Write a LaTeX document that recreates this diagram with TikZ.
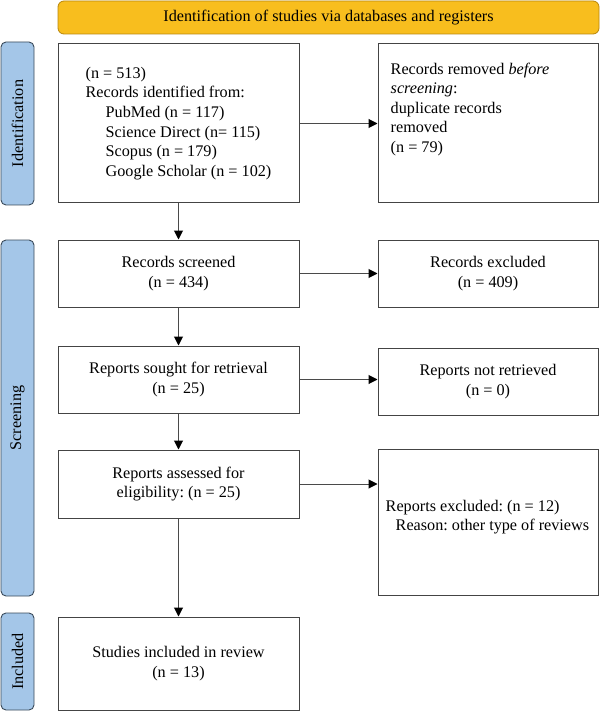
\documentclass[tikz,border=0pt]{standalone}
\usepackage{fontspec}
\setmainfont{Liberation Serif}
\usetikzlibrary{arrows.meta,calc}
\definecolor{bannerfill}{HTML}{F8BE1E}
\definecolor{bannerdraw}{HTML}{B8860B}
\definecolor{sidefill}{HTML}{A4C6E8}
\definecolor{sidedraw}{HTML}{3A4A5A}
\definecolor{boxdraw}{HTML}{444444}
\definecolor{arrowcol}{HTML}{4A4A4A}
\frenchspacing
\begin{document}
\begin{tikzpicture}[x=1pt,y=-1pt,
  every node/.style={font=\fontsize{16.2}{19.6}\selectfont},
  flowbox/.style={draw=boxdraw,line width=1pt,fill=white,inner sep=0pt,align=center},
  sidebar/.style={draw=sidedraw,line width=0.9pt,fill=sidefill,rounded corners=5pt,inner sep=0pt},
  banner/.style={draw=bannerdraw,line width=0.8pt,fill=bannerfill,rounded corners=6pt,inner sep=0pt},
  flowarrow/.style={draw=arrowcol,line width=1pt,-{Triangle[length=9pt,width=9pt,color=black]}},
  plaintext/.style={inner sep=0pt,align=left}]
\useasboundingbox (0,0) rectangle (600,711);
% banner
\node[banner,minimum width=541pt,minimum height=33pt] (ban) at (328.5,17.5) {Identification of studies via databases and registers};
% side bars
\node[sidebar,minimum width=33pt,minimum height=163pt] (sideid) at (17.5,123.5) {};
\node[rotate=90] (sideidt) at (sideid.center) {Identification};
\node[sidebar,minimum width=33pt,minimum height=356pt] (sidescr) at (17.5,418) {};
\node[rotate=90] (sidescrt) at (sidescr.center) {Screening};
\node[sidebar,minimum width=33pt,minimum height=97pt] (sideinc) at (17.5,661.5) {};
\node[rotate=90] (sideinct) at (sideinc.center) {Included};
% left column
\node[flowbox,align=left,minimum width=241pt,minimum height=159pt] (ident) at (178.5,123.5)
  {(n = 513)\\Records identified from:\\\hspace*{20pt}PubMed (n = 117)\\\hspace*{20pt}Science Direct (n= 115)\\\hspace*{20pt}Scopus (n = 179)\\\hspace*{20pt}Google Scholar (n = 102)};
\node[flowbox,minimum width=241pt,minimum height=67pt] (screened) at (178.5,273.5) {Records screened\\(n = 434)};
\node[flowbox,minimum width=241pt,minimum height=67pt] (sought) at (178.5,379.5) {Reports sought for retrieval\\(n = 25)};
\node[flowbox,minimum width=241pt,minimum height=68pt] (assessed) at (178.5,484) {Reports assessed for\\eligibility: (n = 25)};
\node[flowbox,minimum width=241pt,minimum height=93pt] (included) at (178.5,663.5) {Studies included in review\\(n = 13)};
% right column
\node[flowbox,minimum width=220pt,minimum height=159pt] (removed) at (488,123.5) {};
\node[plaintext,anchor=north west] (removedt) at ($(removed.north west)+(13,19)$)
  {Records removed \textit{before}\\\textit{screening}:\\duplicate records\\removed\\(n = 79)};
\node[flowbox,minimum width=220pt,minimum height=67pt] (recexcl) at (488,273.5) {Records excluded\\(n = 409)};
\node[flowbox,minimum width=220pt,minimum height=67pt] (notret) at (488,381.5) {Reports not retrieved\\(n = 0)};
\node[flowbox,minimum width=220pt,minimum height=146pt] (repexcl) at (488,522) {};
\node[plaintext,anchor=west] (repexclt) at ($(repexcl.west)+(8,-5)$)
  {Reports excluded: (n = 12)\\\hspace*{10pt}Reason: other type of reviews};
% arrows
\draw[flowarrow] (ident.south) -- (screened.north);
\draw[flowarrow] (screened.south) -- (sought.north);
\draw[flowarrow] (sought.south) -- (assessed.north);
\draw[flowarrow] (assessed.south) -- (included.north);
\draw[flowarrow] (ident.east) -- (ident.east -| removed.west);
\draw[flowarrow] (screened.east) -- (screened.east -| recexcl.west);
\draw[flowarrow] (sought.east) -- (sought.east -| notret.west);
\draw[flowarrow] (assessed.east) -- (assessed.east -| repexcl.west);
\end{tikzpicture}
\end{document}
